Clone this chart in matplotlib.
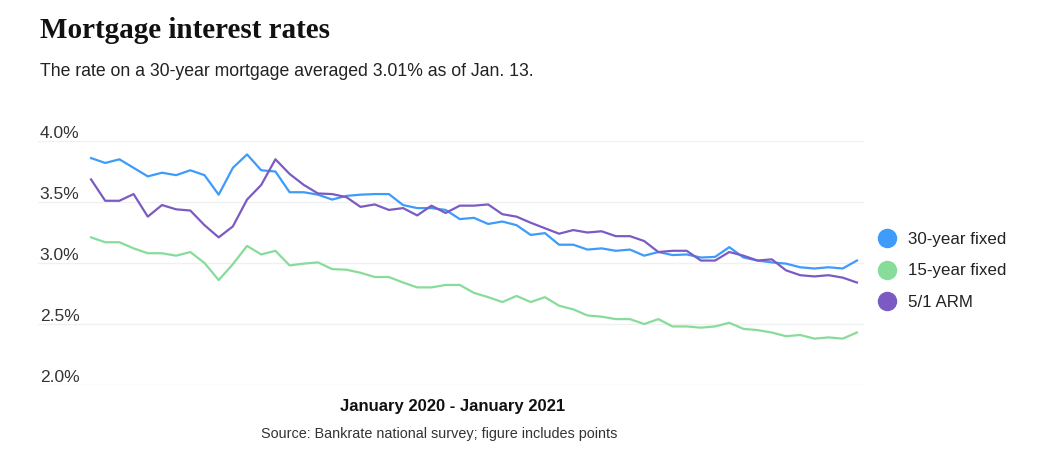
import matplotlib
matplotlib.use("Agg")
import matplotlib.pyplot as plt
import matplotlib.transforms as mtransforms
from matplotlib.lines import Line2D
import numpy as np

# weekly readings, Jan 2020 - Jan 13 2021 (55 weeks)
fixed30 = [3.86, 3.82, 3.85, 3.78, 3.71, 3.74, 3.72, 3.76, 3.72, 3.56,
           3.78, 3.89, 3.76, 3.75, 3.58, 3.58, 3.56, 3.52, 3.55, 3.56,
           3.565, 3.565, 3.475, 3.45, 3.45, 3.435, 3.36, 3.37, 3.32, 3.34,
           3.31, 3.23, 3.245, 3.15, 3.15, 3.11, 3.12, 3.10, 3.11, 3.06,
           3.09, 3.065, 3.07, 3.045, 3.05, 3.13, 3.045, 3.02, 3.005, 2.995,
           2.965, 2.955, 2.965, 2.955, 3.02]
fixed15 = [3.21, 3.17, 3.17, 3.12, 3.08, 3.08, 3.06, 3.09, 3.00, 2.86,
           2.99, 3.14, 3.07, 3.10, 2.98, 2.995, 3.005, 2.95, 2.945, 2.92,
           2.885, 2.885, 2.84, 2.80, 2.80, 2.82, 2.82, 2.755, 2.72, 2.68,
           2.73, 2.68, 2.72, 2.65, 2.62, 2.57, 2.56, 2.54, 2.54, 2.50,
           2.54, 2.48, 2.48, 2.47, 2.48, 2.51, 2.46, 2.45, 2.43, 2.40,
           2.41, 2.38, 2.39, 2.38, 2.43]
arm51 = [3.685, 3.51, 3.51, 3.565, 3.38, 3.475, 3.44, 3.43, 3.31, 3.21,
         3.30, 3.52, 3.64, 3.85, 3.73, 3.64, 3.57, 3.565, 3.54, 3.46,
         3.48, 3.435, 3.45, 3.39, 3.47, 3.41, 3.47, 3.47, 3.48, 3.40,
         3.38, 3.33, 3.285, 3.24, 3.27, 3.25, 3.26, 3.22, 3.22, 3.18,
         3.09, 3.10, 3.10, 3.02, 3.02, 3.09, 3.06, 3.02, 3.03, 2.94,
         2.90, 2.89, 2.90, 2.88, 2.84]

series_names = ["30-year fixed", "15-year fixed", "5/1 ARM"]
colors = ["#3d9bfb", "#88dc9a", "#7b5bc3"]
yticks = [2.0, 2.5, 3.0, 3.5, 4.0]

weeks = np.arange(len(fixed30))

fig = plt.figure(figsize=(10.57, 4.72), dpi=100)
ax = fig.add_axes([38 / 1057, 1 - 385 / 472, (864 - 38) / 1057, (385 - 141) / 472])

for vals, c in zip([fixed30, fixed15, arm51], colors):
    ax.plot(weeks, vals, color=c, lw=1.6, solid_joinstyle="round", zorder=3)

ax.set_xlim(-3.74, 54.5)
ax.set_ylim(2.0, 4.0)
ax.set_yticks(yticks)
ax.grid(axis="y", color="#f0f0f0", lw=1)
ax.tick_params(left=False, bottom=False, labelleft=False, labelbottom=False)
for s in ax.spines.values():
    s.set_visible(False)

trans = mtransforms.blended_transform_factory(ax.transAxes, ax.transData)
for t in yticks:
    ax.text(0.002, t, f"{t:.1f}%", transform=trans, ha="left", va="bottom",
            fontsize=12.5, color="#333333", family="Liberation Sans")

# legend
handles = [Line2D([], [], marker="o", ls="none", ms=13, color=c) for c in colors]
leg = fig.legend(handles, series_names, loc="center left",
                 bbox_to_anchor=(858 / 1057, 1 - 271 / 472), frameon=False,
                 prop={"family": "Liberation Sans", "size": 12.2},
                 handletextpad=0.44, labelspacing=0.98, handlelength=1.6)
for txt in leg.get_texts():
    txt.set_color("#222222")

fig.text(40 / 1057, 1 - 30 / 472, "Mortgage interest rates", ha="left", va="center",
         fontsize=21, family="Liberation Serif", weight="bold", color="#111111")
fig.text(40 / 1057, 1 - 72 / 472, "The rate on a 30-year mortgage averaged 3.01% as of Jan. 13.",
         ha="left", va="center", fontsize=12.7, family="Liberation Sans", color="#222222")
fig.text(453 / 1057, 1 - 406 / 472, "January 2020 - January 2021", ha="center", va="center",
         fontsize=12, family="Liberation Sans", weight="bold", color="#111111")
fig.text(439.5 / 1057, 1 - 434 / 472, "Source: Bankrate national survey; figure includes points",
         ha="center", va="center", fontsize=10.35, family="Liberation Sans", color="#333333")

fig.savefig("out.png", dpi=100, facecolor="white")
